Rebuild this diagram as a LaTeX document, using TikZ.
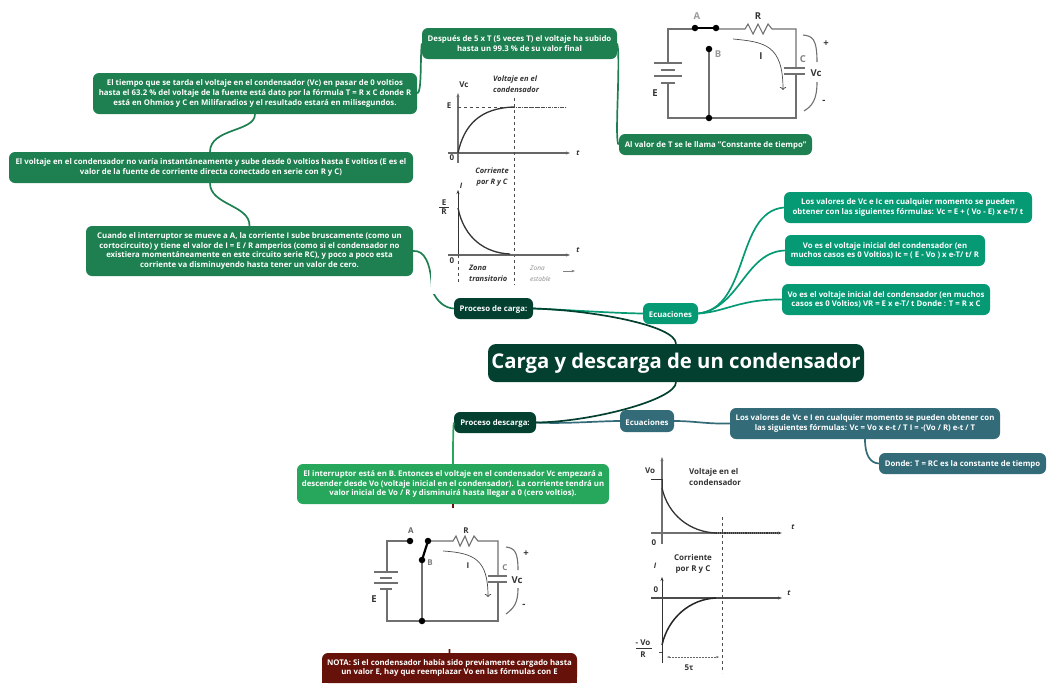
\documentclass[tikz,border=0pt]{standalone}
\usepackage{fontspec}
\setmainfont{Open Sans}
\usepackage{xcolor}
\usetikzlibrary{arrows.meta}

\definecolor{rootgreen}{HTML}{03402F}
\definecolor{leafgreen}{HTML}{1E8050}
\definecolor{mintgreen}{HTML}{059A74}
\definecolor{slateblue}{HTML}{336B78}
\definecolor{brightgreen}{HTML}{27A75C}
\definecolor{notared}{HTML}{66120A}
\definecolor{wiregray}{HTML}{707070}

\tikzset{
    mapbox/.style={rounded corners=6pt, inner sep=0pt, align=center, text=white, font=\fontsize{7.8}{9.7}\selectfont\bfseries, execute at begin node={\rule{0pt}{8.2pt}}},
    figlabel/.style={inner sep=0pt, align=center, text=black!80, font=\fontsize{8}{11}\selectfont\bfseries},
    figbig/.style={figlabel, font=\fontsize{9.5}{11}\selectfont\bfseries},
    figitalic/.style={figlabel, font=\fontsize{7.5}{10.5}\selectfont\bfseries\itshape},
    wire/.style={wiregray, line width=1.1pt},
    link/.style={line width=1.7pt},
    contact/.style={circle, fill=black, inner sep=0pt, minimum size=6.5pt}
}

\begin{document}
\begin{tikzpicture}[>=Stealth, x=1pt, y=-1pt]
    \useasboundingbox (0,0) rectangle (1057,697);

    % Boxes of the map
    \node[mapbox, fill=rootgreen, minimum width=376pt, minimum height=38pt, rounded corners=8pt, font=\fontsize{20.3}{24}\selectfont\bfseries] (root) at (676,363) {\raisebox{-4pt}{Carga y descarga de un condensador}};
    \node[mapbox, fill=rootgreen, minimum width=79pt, minimum height=21pt] (carga) at (493.5,308.5) {Proceso de carga:};
    \node[mapbox, fill=rootgreen, minimum width=82pt, minimum height=21pt] (descarga) at (495,422.5) {Proceso descarga:};
    \node[mapbox, fill=leafgreen, minimum width=324pt, minimum height=41pt] (tiempo) at (255,93.5) {El tiempo que se tarda el voltaje en el condensador (Vc) en pasar de 0 voltios\\hasta el 63.2 \% del voltaje de la fuente está dato por la fórmula T = R x C donde R\\está en Ohmios y C en Milifaradios y el resultado estará en milisegundos.};
    \node[mapbox, fill=leafgreen, minimum width=404pt, minimum height=31pt] (voltaje) at (211,167.5) {El voltaje en el condensador no varía instantáneamente y sube desde 0 voltios hasta E voltios (E es el\\valor de la fuente de corriente directa conectado en serie con R y C)};
    \node[mapbox, fill=leafgreen, minimum width=327pt, minimum height=50pt] (corriente) at (249.5,251) {Cuando el interruptor se mueve a A, la corriente I sube bruscamente (como un\\cortocircuito) y tiene el valor de I = E / R amperios (como si el condensador no\\existiera momentáneamente en este circuito serie RC), y poco a poco esta\\corriente va disminuyendo hasta tener un valor de cero.};
    \node[mapbox, fill=leafgreen, minimum width=195pt, minimum height=31pt] (despues) at (519.5,43.5) {Después de 5 x T (5 veces T) el voltaje ha subido\\hasta un 99.3 \% de su valor final};
    \node[mapbox, fill=leafgreen, minimum width=193pt, minimum height=21pt] (constante) at (715.5,144.5) {Al valor de T se le llama "Constante de tiempo"};
    \node[mapbox, fill=mintgreen, minimum width=55pt, minimum height=21pt] (ecuauno) at (670.5,313.5) {Ecuaciones};
    \node[mapbox, fill=mintgreen, minimum width=248pt, minimum height=31pt] (formulavc) at (908,207.5) {Los valores de Vc e Ic en cualquier momento se pueden\\obtener con las siguientes fórmulas: Vc = E + ( Vo - E) x e-T/ t};
    \node[mapbox, fill=mintgreen, minimum width=200pt, minimum height=31pt] (formulaic) at (885,250.5) {Vo es el voltaje inicial del condensador (en\\muchos casos es 0 Voltios) Ic = ( E - Vo ) x e-T/ t/ R};
    \node[mapbox, fill=mintgreen, minimum width=208pt, minimum height=31pt] (formulavr) at (886,299.5) {Vo es el voltaje inicial del condensador (en muchos\\casos es 0 Voltios) VR = E x e-T/ t Donde : T = R x C};
    \node[mapbox, fill=slateblue, minimum width=54pt, minimum height=22pt] (ecuados) at (647,421) {Ecuaciones};
    \node[mapbox, fill=slateblue, minimum width=270pt, minimum height=31pt] (formulados) at (865,423.5) {Los valores de Vc e I en cualquier momento se pueden obtener con\\las siguientes fórmulas: Vc = Vo x e-t / T I = -(Vo / R) e-t / T};
    \node[mapbox, fill=slateblue, minimum width=167pt, minimum height=21pt] (donde) at (962.5,463.5) {Donde: T = RC es la constante de tiempo};
    \node[mapbox, fill=brightgreen, minimum width=312pt, minimum height=40pt] (interruptor) at (453,484) {El interruptor está en B. Entonces el voltaje en el condensador Vc empezará a\\descender desde Vo (voltaje inicial en el condensador). La corriente tendrá un\\valor inicial de Vo / R y disminuirá hasta llegar a 0 (cero voltios).};
    \fill[notared] (322,672) rectangle (577,683);
    \node[mapbox, fill=notared, minimum width=255pt, minimum height=30pt] (nota) at (449.5,668) {NOTA: Si el condensador había sido previamente cargado hasta\\un valor E, hay que reemplazar Vo en las fórmulas con E};

    % Connectors
    \draw[link, mintgreen] (carga.east) .. controls (570,310) and (610,313) .. (ecuauno.west);
    \draw[link, slateblue] (descarga.east) .. controls (565,424) and (600,421) .. (ecuados.west);
    \draw[link, rootgreen] (root.north) .. controls (676,325) and (590,310) .. (carga.east);
    \draw[link, rootgreen] (root.south) .. controls (676,400) and (590,422) .. (descarga.east);
    \draw[link, mintgreen] (ecuauno.east) .. controls (750,308) and (735,212) .. (formulavc.west);
    \draw[link, mintgreen] (ecuauno.east) .. controls (740,308) and (745,252) .. (formulaic.west);
    \draw[link, mintgreen] (ecuauno.east) .. controls (725,312) and (740,299) .. (formulavr.west);
    \draw[link, slateblue] (ecuados.east) .. controls (695,421) and (705,424) .. (formulados.west);
    \draw[link, slateblue] (formulados.south) .. controls (865,455) and (870,463) .. (donde.west);
    \draw[link, leafgreen] (tiempo.south) .. controls (255,132) and (210,128) .. ([xshift=-1pt]voltaje.north);
    \draw[link, leafgreen] ([xshift=-1pt]voltaje.south) .. controls (210,205) and (250,205) .. (corriente.north);
    \draw[link, leafgreen] (corriente.east) .. controls (424,250) and (431,262) .. (432,290) .. controls (437,302) and (445,308) .. (carga.west);
    \draw[link, leafgreen] (despues.west) .. controls (420,60) and (422,92) .. (tiempo.east);
    \draw[link, leafgreen] (despues.east) .. controls (621,60) and (614,144) .. (constante.west);
    \draw[link, brightgreen] (descarga.west) .. controls (453,430) and (453,450) .. (interruptor.north);
    \draw[link, notared] (interruptor.south) -- (nota.north);

    % Grounds of the pictures
    \fill[white] (431,60) rectangle (600,294);
    \fill[white] (340,508) rectangle (560,649);

    % Circuit while charging
    \draw[wire] (668,63) -- (668,29) -- (695,29);
    \draw[wire] (716,29) -- (745,29) -- (748,24) -- (753,34) -- (758,24) -- (763,34) -- (768,24) -- (772,29) -- (796,29) -- (796,68);
    \draw[wire] (796,74) -- (796,118) -- (668,118) -- (668,83);
    \draw[wire] (654,63) -- (682,63) (661,70) -- (675,70) (654,76) -- (682,76) (661,83) -- (675,83);
    \draw[wire] (784,68) -- (805,68) (784,74) -- (805,74);
    \draw[wire] (709,49) -- (709,118);
    \draw[line width=2.2pt] (695,28) -- (716,28);
    \node[contact] (puntoa) at (695,28) {};
    \node[contact] (puntob) at (716,28) {};
    \node[contact] (puntoc) at (709,49) {};
    \node[contact] (puntod) at (709,118) {};
    \draw[black!70, line width=0.7pt, -{To[length=3pt]}] (733,39) .. controls (765,42) and (783,45) .. (783,90);
    \draw[wire] (803,35) .. controls (812,36) and (817,38) .. (817,62);
    \draw[wire] (817,82) .. controls (817,100) and (812,106) .. (804,111);
    \node[figbig, text=black!40] (labela) at (697,16) {A};
    \node[figbig] (labelr) at (758,16) {R};
    \node[figbig, text=black!40] (labelb) at (718,54) {B};
    \node[figbig] (labeli) at (761,56) {I};
    \node[figbig, text=black!50] (labelc) at (803,59) {C};
    \node[figbig] (labelvc) at (816,73) {Vc};
    \node[figbig] (labele) at (655,93) {E};
    \node[figbig] (labelmas) at (826,44) {+};
    \node[figbig] (labelmenos) at (824,102) {-};

    % Curves while charging
    \draw[wire, -{Stealth[length=4pt]}] (458,163) -- (458,93);
    \draw[wire, black!60, -{Stealth[length=4pt]}] (448,153) -- (570,153);
    \draw[dashed, line width=0.6pt, black!70] (458,107) -- (566,107);
    \draw[dashed, line width=0.6pt, black!70] (514,98) -- (514,285);
    \draw[line width=1.3pt, black!80] (458,153) .. controls (464,125) and (480,108) .. (514,107);
    \draw[line width=0.9pt, black!70, densely dotted] (514,107) -- (566,107);
    \node[figlabel] (labelvcuno) at (464,85) {Vc};
    \node[figitalic, align=left, anchor=west] (titulouno) at (493,84) {Voltaje en el\\condensador};
    \node[figlabel] (labeleuno) at (449,106) {E};
    \node[figlabel] (labelcerouno) at (452,158) {0};
    \node[figitalic] (labeltuno) at (578,153) {t};
    \draw[line width=1pt, black!80, -{Stealth[length=4pt]}] (458,255) -- (458,190);
    \draw[wire, black!60, -{Stealth[length=4pt]}] (448,255) -- (570,255);
    \draw[dashed, line width=0.6pt, black!70] (458,255) -- (458,285);
    \draw[line width=1.3pt, black!80] (458,208) .. controls (464,238) and (485,253) .. (510,254);
    \node[figitalic] (titulodos) at (492,177) {Corriente\\por R y C};
    \node[figitalic] (labelidos) at (461,186) {I};
    \node[figlabel] (labelers) at (444,207) {E\\[-2pt]R};
    \draw[black!80, line width=0.8pt] (439,207) -- (449,207);
    \node[figlabel] (labelcerodos) at (452,261) {0};
    \node[figitalic] (labeltdos) at (578,250) {t};
    \node[figitalic, align=left, anchor=west] (zonauno) at (469,273.5) {Zona\\transitorio};
    \node[figitalic, align=left, anchor=west, text=black!45, font=\fontsize{6.5}{10.5}\selectfont\itshape] (zonados) at (530,273.5) {Zona\\estable};
    \draw[black!50, line width=0.6pt, -{Stealth[length=3.5pt]}] (563,271) -- (575,271);

    % Circuit while discharging
    \draw[wire] (374,572) -- (398,572) (380,578) -- (392,578) (374,583) -- (398,583) (380,589) -- (392,589);
    \draw[wire] (387,572) -- (387,541) -- (410,541);
    \draw[wire] (428,541) -- (453,541) -- (456,536) -- (460,546) -- (465,536) -- (469,546) -- (474,536) -- (478,541) -- (498,541) -- (498,576);
    \draw[wire] (498,582) -- (498,621) -- (387,621) -- (387,589);
    \draw[wire] (488,576) -- (507,576) (488,582) -- (507,582);
    \draw[wire] (422,560) -- (422,621);
    \draw[line width=2.2pt] (428,541) -- (422,560);
    \node[contact] (puntoe) at (410,541) {};
    \node[contact] (puntof) at (428,541) {};
    \node[contact] (puntog) at (422,560) {};
    \node[contact] (puntoh) at (422,621) {};
    \draw[black!70, line width=0.7pt, -{To[length=3pt]}] (443,551) .. controls (475,553) and (488,560) .. (488,597);
    \draw[wire] (506,547) .. controls (514,548) and (518,551) .. (518,570);
    \draw[wire] (518,588) .. controls (518,603) and (514,608) .. (506,614);
    \node[figlabel, text=black!60] (labelad) at (411,531) {A};
    \node[figlabel] (labelrd) at (466,531) {R};
    \node[figlabel, text=black!50] (labelbd) at (430,563) {B};
    \node[figlabel] (labelid) at (468,566) {I};
    \node[figlabel, text=black!50] (labelcd) at (505,568) {C};
    \node[figbig] (labelvcd) at (517,580) {Vc};
    \node[figbig] (labeled) at (374,599) {E};
    \node[figbig] (labelmasd) at (526,554) {+};
    \node[figbig] (labelmenosd) at (524,606) {-};

    % Curves while discharging
    \draw[wire, -{Stealth[length=4pt]}] (662,544) -- (662,457);
    \draw[wire, -{Stealth[length=4pt]}] (651,533) -- (782,533);
    \draw[dashed, line width=0.9pt, black!70] (722,517) -- (722,673);
    \draw[line width=1.3pt, black!80] (662,488) .. controls (668,515) and (690,532) .. (716,533);
    \draw[line width=1.1pt, black!80, densely dotted] (716,533) -- (780,533);
    \draw[line width=1pt, black!80] (651,479) -- (662,479) -- (662,488);
    \node[figlabel] (labelvo) at (650,471) {Vo};
    \node[figlabel, align=left, anchor=west] (titulotres) at (689,476.5) {Voltaje en el\\condensador};
    \node[figlabel] (labelcerotres) at (654,543) {0};
    \node[figitalic] (labelttres) at (793,527) {t};
    \draw[line width=1pt, black!80, -{Stealth[length=4pt]}] (662,663) -- (662,577);
    \draw[wire, black!70, -{Stealth[length=4pt]}] (651,598) -- (782,598);
    \draw[line width=1.5pt, black!85] (662,645) .. controls (668,618) and (690,599) .. (716,598);
    \draw[black!70, line width=0.6pt] (659,652) -- (662,652);
    \node[figlabel] (titulocuatro) at (693,564) {Corriente\\por R y C};
    \node[figitalic] (labelicuatro) at (655,566) {I};
    \node[figlabel] (labelcerocuatro) at (656,590) {0};
    \node[figitalic] (labeltcuatro) at (789,593) {t};
    \node[figlabel] (labelvor) at (643,649) {- Vo\\[1pt]R};
    \draw[black!80, line width=0.8pt] (636,648) -- (652,648);
    \draw[black!60, line width=0.5pt, densely dotted, {Stealth[length=3pt]}-{Stealth[length=3pt]}] (667,657) -- (719,657);
    \node[figlabel] (labelcinco) at (689,668) {5τ};
\end{tikzpicture}
\end{document}
